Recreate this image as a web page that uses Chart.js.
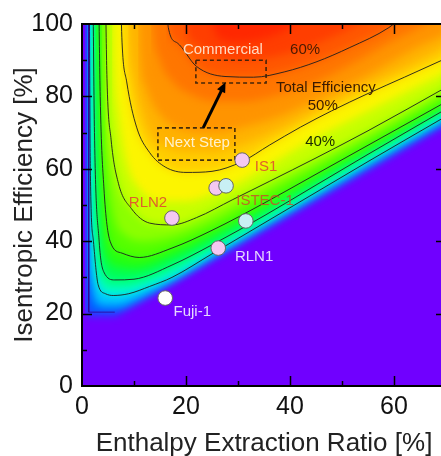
<!DOCTYPE html>
<html>
<head>
<meta charset="utf-8">
<script src="https://cdn.jsdelivr.net/npm/chart.js@4.4.1/dist/chart.umd.min.js"></script>
<style>
html, body { margin: 0; padding: 0; background: #fff; overflow: hidden; }
#wrap { width: 460px; height: 456px; }
</style>
</head>
<body>
<div id="wrap"><canvas id="chart" width="460" height="456"></canvas></div>
<script>
// ---- data: [enthalpy extraction %, isentropic efficiency %] ----
const xTicks = [0, 20, 40, 60];
const yTicks = [0, 20, 40, 60, 80, 100];

// total-efficiency level curves (edge of the feasible region = 0)
const curve0   = [[0.6,110],[0.6,21],[1.0,19.6],[6.5,19.6],[70,72.5]];
const curve5   = [[1.0,110],[1.1,50],[1.6,30],[2.5,23.5],[4.5,22],[7,22],[10,23.5],[17.3,29.2],[25,35.8],[35,44.2],[45,52.6],[55,61],[70,73.5]];
const curve10  = [[1.4,110],[1.6,60],[2.2,40],[3.1,28],[4.5,25.5],[6,25],[9,25.5],[13,27.5],[17.3,30],[25,36.5],[35,45],[45,53.5],[55,62],[70,74.5]];
const curve15  = [[1.75,110],[2.0,60],[2.7,38],[3.6,29.5],[5.3,27],[8,27],[12,28.5],[17.3,31.7],[25,37.8],[35,46],[45,54.5],[55,63],[70,75.5]];
const curve20  = [[2.1,110],[2.4,70],[3.3,40],[4.2,31.5],[6.3,29.3],[10,29.5],[17.3,33.4],[25,39],[35,47],[45,55.5],[55,64],[70,76.5]];
const curve25  = [[2.6,110],[2.9,75],[3.7,45],[4.8,35],[7,32.8],[10,32.3],[17.3,35.7],[25,41],[35,48.8],[45,57],[55,65.2],[70,77.5]];
const curve30  = [[3.2,110],[3.5,80],[4.2,55],[5.4,40],[7.7,36.7],[11,35.5],[17.3,38.1],[25,43],[35,50.5],[45,58.5],[55,66.5],[70,78.5]];
const curve35  = [[3.8,110],[4.1,80],[4.9,60],[6.2,47],[8.5,41.5],[12,40],[17.3,41.2],[25,45.5],[35,53.3],[45,60.8],[55,68.5],[70,80.5]];
const curve40  = [[4.5,110],[4.8,85],[5.6,68],[7,56],[9.5,49],[13,45],[17.3,44.5],[22,46.5],[29,51.5],[36,56.5],[45,63],[55,70.5],[70,82.5]];
const curve45  = [[5.8,110],[6.1,90],[7,75],[8.5,62],[11,54.5],[15,51],[20,51],[25,53],[30,56],[36,61],[45,68.5],[55,75.8],[70,86.5]];
const curve50  = [[7.4,110],[7.7,95],[8.6,84],[10.5,71.5],[13,64.5],[16,60.5],[20,59],[25,59.3],[30.8,62],[36,66.5],[42,71.5],[48,76],[55,80.8],[62,85.3],[70,90.5]];
const curve525 = [[8.9,110],[9.2,96],[10,86],[11.5,76],[13.5,69],[16,66],[20,64.7],[25,64.6],[31,66.8],[38,71],[45,76.3],[55,83.4],[62,88],[70,93.7]];
const curve55  = [[10.8,110],[11.2,92],[12.5,82],[15,75],[19,71],[25,70],[31,71.5],[38,74.5],[45,79],[55,86],[65,94],[70,97]];
const curve575 = [[13.3,110],[13.6,100],[15,90],[17.5,84],[21,80.5],[26,78.5],[31,78.5],[38,80.5],[45,84],[52,89],[60,95.5],[66,100],[68,102]];
const curve60  = [[16.2,110],[16.6,99],[18.3,94.8],[22,88.3],[27.5,85.5],[33,85.3],[39,86.8],[45,89.5],[51.5,93.5],[59,99],[62,102.5]];
const curve625 = [[19.5,110],[20,99],[22,94.5],[26,91],[31,90],[37,91],[43,93.5],[49,97],[53,100],[55,102]];
const curve65  = [[24,110],[26,96.5],[30,95],[35,96],[40,99],[42,101.5]];

const levels = [0, 5, 10, 15, 20, 25, 30, 35, 40, 45, 50, 52.5, 55, 57.5, 60, 62.5, 65];
const curves = [curve0, curve5, curve10, curve15, curve20, curve25, curve30, curve35, curve40,
                curve45, curve50, curve525, curve55, curve575, curve60, curve625, curve65];
const drawnLevels = [10, 20, 30, 40, 50, 60];

// test machines
const sampleNames = ['IS1', 'pair-pink', 'pair-cyan', 'RLN2', 'ISTEC-1', 'RLN1', 'Fuji-1'];
const sampleE     = [30.8, 25.8, 27.7, 17.3, 31.5, 26.2, 16.0];
const sampleEta   = [62.4, 54.7, 55.3, 46.4, 45.6, 38.1, 24.3];

// ---- styles ----
const FONT = "'Liberation Sans', Arial, sans-serif";
const PURPLE = 'rgb(112,0,255)';
const bandColors = {
  0: 'rgb(0,95,255)', 5: 'rgb(0,195,255)', 10: 'rgb(0,250,215)', 15: 'rgb(0,255,150)',
  20: 'rgb(0,255,85)', 25: 'rgb(35,255,20)', 30: 'rgb(85,255,0)', 35: 'rgb(140,255,0)',
  40: 'rgb(198,255,0)', 45: 'rgb(252,245,0)', 50: 'rgb(255,205,0)', 52.5: 'rgb(255,178,0)',
  55: 'rgb(255,148,0)', 57.5: 'rgb(255,118,0)', 60: 'rgb(255,88,0)', 62.5: 'rgb(255,62,0)',
  65: 'rgb(255,40,0)'
};
const sampleFill = {
  'IS1': '#f4c8f2', 'pair-pink': '#f4c8f2', 'pair-cyan': '#c8f0f4', 'RLN2': '#f4c8f2',
  'ISTEC-1': '#c8f0f4', 'RLN1': '#f4c8f2', 'Fuji-1': '#ffffff'
};

const datasets = [];

// infeasible region underneath everything
datasets.push({
  label: 'base',
  data: [{ x: -5, y: -10 }, { x: 75, y: -10 }],
  fill: { value: 110 },
  backgroundColor: PURPLE,
  borderColor: 'rgba(0,0,0,0)',
  pointRadius: 0,
  order: 200
});

levels.forEach((lv, i) => {
  datasets.push({
    label: lv + '%',
    data: curves[i].map(p => ({ x: p[0], y: p[1] })),
    fill: { value: 110 },
    backgroundColor: bandColors[lv],
    borderColor: drawnLevels.includes(lv) ? 'rgba(30,30,30,0.9)' : 'rgba(0,0,0,0)',
    borderWidth: 1,
    pointRadius: 0,
    cubicInterpolationMode: lv === 0 ? 'default' : 'monotone',
    tension: 0,
    order: 100 - lv
  });
});

// thin dark frame line left over in the original plot
datasets.push({
  label: 'edge',
  data: [{ x: 1.3, y: 100 }, { x: 1.3, y: 20.4 }, { x: 6.3, y: 20.4 }],
  fill: false,
  borderColor: 'rgba(50,0,150,0.8)',
  borderWidth: 1,
  pointRadius: 0,
  order: 20
});

datasets.push({
  label: 'machines',
  data: sampleE.map((e, i) => ({ x: e, y: sampleEta[i] })),
  showLine: false,
  pointRadius: 7.3,
  pointHoverRadius: 7.3,
  pointBackgroundColor: sampleNames.map(n => sampleFill[n]),
  pointBorderColor: '#666',
  pointBorderWidth: 1,
  order: 0
});

// annotations in data units
const notes = [
  { t: 'Commercial', e: 27.1, n: 92.8, c: 'rgba(255,228,205,0.95)' },
  { t: '60%', e: 42.9, n: 92.8, c: '#4a1a00' },
  { t: 'Total Efficiency', e: 46.9, n: 82.4, c: '#3a1a00' },
  { t: '50%', e: 46.3, n: 77.3, c: '#3a1a00' },
  { t: '40%', e: 45.8, n: 67.4, c: '#1a2a00' },
  { t: 'Next Step', e: 22.1, n: 67.1, c: 'rgba(255,245,215,0.95)' },
  { t: 'IS1', e: 35.4, n: 60.5, c: '#e0602a' },
  { t: 'ISTEC-1', e: 35.2, n: 51.1, c: 'rgba(200,80,40,0.85)' },
  { t: 'RLN2', e: 12.7, n: 50.6, c: '#e0602a' },
  { t: 'RLN1', e: 33.1, n: 35.6, c: '#e6d6ff' },
  { t: 'Fuji-1', e: 21.2, n: 20.4, c: '#e6d6ff' }
];
const boxes = [
  { e0: 21.9, e1: 35.4, n0: 83.7, n1: 90.0 },
  { e0: 14.6, e1: 29.4, n0: 62.4, n1: 71.3 }
];
const arrow = { e0: 23.3, n0: 71.3, e1: 27.6, n1: 83.9 };

const overlay = {
  id: 'overlay',
  // soft colour bands: blur only the filled areas (filler paints in beforeDraw)
  beforeRender(chart) {
    chart.ctx.filter = 'blur(4px)';
  },
  beforeDraw(chart) {
    chart.ctx.filter = 'none';
  },
  beforeDatasetDraw(chart, args) {
    if (chart.data.datasets[args.index].label !== 'machines') return;
    const { ctx, scales: { x, y } } = chart;
    ctx.save();
    // dashed boxes
    ctx.strokeStyle = 'rgba(50,30,10,0.9)';
    ctx.lineWidth = 1.6;
    ctx.setLineDash([4, 3]);
    boxes.forEach(b => {
      const x0 = x.getPixelForValue(b.e0), x1 = x.getPixelForValue(b.e1);
      const y0 = y.getPixelForValue(b.n1), y1 = y.getPixelForValue(b.n0);
      ctx.strokeRect(x0, y0, x1 - x0, y1 - y0);
    });
    ctx.setLineDash([]);
    // arrow
    const ax0 = x.getPixelForValue(arrow.e0), ay0 = y.getPixelForValue(arrow.n0);
    const ax1 = x.getPixelForValue(arrow.e1), ay1 = y.getPixelForValue(arrow.n1);
    const ang = Math.atan2(ay1 - ay0, ax1 - ax0);
    ctx.strokeStyle = '#000';
    ctx.fillStyle = '#000';
    ctx.lineWidth = 3;
    ctx.beginPath();
    ctx.moveTo(ax0, ay0);
    ctx.lineTo(ax1 - 7 * Math.cos(ang), ay1 - 7 * Math.sin(ang));
    ctx.stroke();
    ctx.beginPath();
    ctx.moveTo(ax1, ay1);
    ctx.lineTo(ax1 - 10 * Math.cos(ang) + 4.5 * Math.sin(ang), ay1 - 10 * Math.sin(ang) - 4.5 * Math.cos(ang));
    ctx.lineTo(ax1 - 10 * Math.cos(ang) - 4.5 * Math.sin(ang), ay1 - 10 * Math.sin(ang) + 4.5 * Math.cos(ang));
    ctx.closePath();
    ctx.fill();
    // labels
    ctx.font = '15px ' + FONT;
    ctx.textAlign = 'center';
    ctx.textBaseline = 'middle';
    notes.forEach(n => {
      ctx.fillStyle = n.c;
      ctx.fillText(n.t, x.getPixelForValue(n.e), y.getPixelForValue(n.n));
    });
    ctx.restore();
  },
  afterDraw(chart) {
    const { ctx, chartArea: a, scales: { x, y } } = chart;
    ctx.save();
    ctx.strokeStyle = '#000';
    ctx.lineWidth = 1.5;
    ctx.beginPath();
    for (let v = 10; v < 70; v += 10) {
      const p = Math.round(x.getPixelForValue(v)) + 0.5;
      const len = v % 20 === 0 ? 10 : 5;
      ctx.moveTo(p, a.bottom); ctx.lineTo(p, a.bottom - len);
      ctx.moveTo(p, a.top); ctx.lineTo(p, a.top + len);
    }
    for (let v = 10; v < 100; v += 10) {
      const p = Math.round(y.getPixelForValue(v)) + 0.5;
      const len = v % 20 === 0 ? 10 : 5;
      ctx.moveTo(a.left, p); ctx.lineTo(a.left + len, p);
      ctx.moveTo(a.right, p); ctx.lineTo(a.right - len, p);
    }
    ctx.stroke();
    ctx.lineWidth = 2;
    ctx.strokeRect(a.left, a.top, a.right - a.left, a.bottom - a.top);
    ctx.restore();
  }
};

new Chart(document.getElementById('chart'), {
  type: 'line',
  data: { datasets },
  options: {
    responsive: false,
    animation: false,
    events: [],
    layout: { padding: { top: 24, right: 14, left: 0, bottom: 0 } },
    plugins: {
      legend: { display: false },
      tooltip: { enabled: false },
      filler: { drawTime: 'beforeDraw' }
    },
    scales: {
      x: {
        type: 'linear', min: 0, max: 70,
        afterFit: s => { s.height = 70; },
        afterBuildTicks: s => { s.ticks = xTicks.map(v => ({ value: v })); },
        grid: { display: false, drawTicks: false },
        border: { display: false },
        ticks: { padding: 6, color: '#111', font: { family: FONT, size: 25 }, maxRotation: 0 },
        title: { display: true, text: 'Enthalpy Extraction Ratio [%]', color: '#222',
                 font: { family: FONT, size: 26 }, padding: { top: 0, bottom: -3 } }
      },
      y: {
        type: 'linear', min: 0, max: 100,
        afterFit: s => { s.width = 82; },
        afterBuildTicks: s => { s.ticks = yTicks.map(v => ({ value: v })); },
        grid: { display: false, drawTicks: false },
        border: { display: false },
        ticks: { padding: 9, color: '#111', font: { family: FONT, size: 25 } },
        title: { display: true, text: 'Isentropic Efficiency [%]', color: '#222',
                 font: { family: FONT, size: 26 }, padding: { top: 9, bottom: 0 } }
      }
    }
  },
  plugins: [overlay]
});
</script>
</body>
</html>
